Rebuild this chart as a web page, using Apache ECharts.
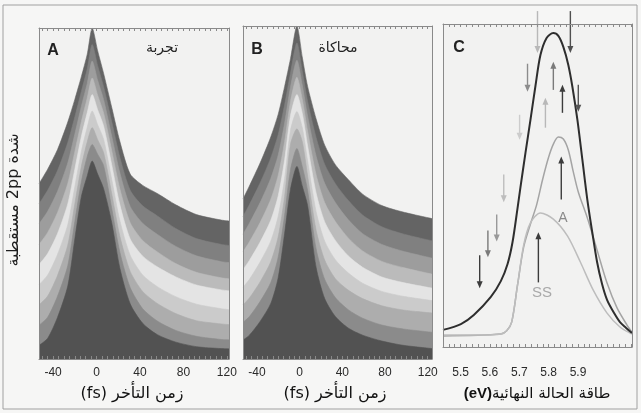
<!DOCTYPE html>
<html>
<head>
<meta charset="utf-8">
<script src="https://cdn.jsdelivr.net/npm/echarts@6.0.0/dist/echarts.min.js"></script>
<style>
  html, body { margin: 0; padding: 0; background: #f6f6f5; }
  #chart { width: 641px; height: 413px; }
</style>
</head>
<body>
<div id="chart"></div>
<script>
// A (experiment) / B (simulation): band boundaries, outer curve first, inner cusp last
const delayA = [-53, -45, -36, -26.5, -20, -14, -8.5, -4, 1, 6.5, 14, 21.5, 31, 42.5, 56, 73, 92, 115, 122];
const expA0 = [52, 56.5, 62.5, 71, 78, 85, 92, 100, 93, 86, 75.5, 65, 55, 51.5, 49, 45.5, 42.5, 40.8, 40.5];
const expA1 = [45.8, 50, 56, 64.7, 72.6, 80.4, 87.5, 94.9, 88.4, 81.9, 71.1, 60.1, 50, 45.2, 42.1, 38.2, 35.1, 33.3, 33];
const expA2 = [39.6, 43.5, 49.6, 58.4, 67.3, 75.8, 83, 89.8, 83.9, 77.9, 66.6, 55.3, 45, 39.8, 36.4, 32.7, 29.8, 28, 27.7];
const expA3 = [33.3, 37, 43.1, 52.1, 61.9, 71.1, 78.5, 84.6, 79.3, 73.8, 62.2, 50.4, 40, 34.5, 31, 27.4, 24.7, 23, 22.7];
const expA4 = [27.1, 30.5, 36.6, 45.8, 56.5, 66.5, 74, 79.5, 74.8, 69.8, 57.8, 45.5, 35, 29.7, 26.4, 23.3, 20.8, 19.3, 19];
const expA5 = [20.9, 23.9, 30.2, 39.4, 51.1, 61.9, 69.5, 74.4, 70.2, 65.7, 53.3, 40.6, 30, 23.9, 20.3, 17.2, 14.9, 13.5, 13.2];
const expA6 = [14.7, 17.4, 23.7, 33.1, 45.8, 57.3, 65, 69.3, 65.6, 61.6, 48.9, 35.8, 25, 18.8, 15.1, 12, 9.8, 8.8, 8.6];
const expA7 = [8.4, 10.9, 17.3, 26.8, 40.4, 52.6, 60.5, 64.1, 61.1, 57.6, 44.4, 30.9, 20, 13.5, 9.7, 6.8, 5, 4, 3.9];
const expA8 = [2.2, 4.4, 10.8, 20.5, 35, 48, 54.5, 59, 55, 50.5, 40, 26, 15, 9, 5.5, 3.2, 1.8, 1.2, 1.1];

const delayB = [-53, -47, -37, -27, -20, -14, -8.5, -2.5, 2.5, 7.5, 15.5, 23.5, 33.5, 45.5, 59, 77, 97, 124];
const simB0 = [47, 51, 58, 66, 73, 81.5, 90, 100, 90.5, 81.5, 71.5, 63.5, 57.5, 53, 48.5, 45, 43, 41];
const simB1 = [41.6, 45.3, 51.9, 59.6, 66.8, 75.9, 85.6, 94.8, 86.2, 76.9, 65.8, 57.6, 51.7, 46.6, 42.1, 38.5, 36.3, 34.2];
const simB2 = [36.2, 39.6, 45.9, 53.3, 60.5, 70.3, 81.3, 89.5, 81.9, 72.4, 60.1, 51.8, 45.9, 40.7, 36.4, 33.1, 31, 28.9];
const simB3 = [30.8, 33.9, 39.8, 46.9, 54.3, 64.6, 76.9, 84.3, 77.6, 67.8, 54.4, 45.9, 40.1, 35.1, 31.1, 27.9, 26, 24];
const simB4 = [25.4, 28.2, 33.8, 40.5, 48, 59, 72.5, 79, 73.3, 63.3, 48.8, 40, 34.3, 29.6, 26.1, 23.1, 21.4, 19.7];
const simB5 = [20, 22.4, 27.7, 34.1, 41.8, 53.4, 68.1, 73.8, 68.9, 58.7, 43.1, 34.1, 28.4, 24.4, 21.2, 18.7, 17.2, 15.9];
const simB6 = [14.6, 16.7, 21.6, 27.8, 35.5, 47.8, 63.8, 68.5, 64.6, 54.1, 37.4, 28.3, 22.6, 19.1, 16.5, 14.3, 13, 12.1];
const simB7 = [9.2, 11, 15.6, 21.4, 29.3, 42.1, 56, 62.5, 57, 49.6, 31.7, 22.4, 16.8, 13.1, 10.5, 8.4, 7.2, 6.2];
const simB8 = [3.8, 5.3, 9.5, 15, 23, 36.5, 50, 57, 51, 45, 26, 16.5, 11, 7.5, 5.3, 3.5, 2.2, 1.2];

// C: final state energy spectra (eV)
const energyTotal = [5.44, 5.501, 5.545, 5.603, 5.637, 5.660, 5.677, 5.694, 5.704, 5.721, 5.738, 5.755, 5.772, 5.793, 5.816,
  5.833, 5.850, 5.867, 5.881, 5.898, 5.915, 5.932, 5.949, 5.965, 5.982, 5.999, 6.023, 6.043, 6.064, 6.084];
const totalVals = [5.3, 7.1, 9.9, 15.5, 20.4, 25.7, 32.5, 43, 49.5, 60.1, 70.3, 80.8, 90.4, 95.7, 97.2,
  96.3, 92.9, 87.3, 80.5, 70.3, 57.9, 45.5, 35.3, 26.3, 19.5, 14.6, 10.5, 7.7, 5.9, 4.3];
const energyA = [5.44, 5.637, 5.657, 5.674, 5.694, 5.715, 5.738, 5.759, 5.779, 5.799, 5.816, 5.833, 5.850, 5.867, 5.884,
  5.901, 5.932, 5.965, 5.999, 6.033, 6.067, 6.084];
const stateAVals = [3.4, 4.0, 5.0, 7.7, 19.2, 31, 38.1, 44, 51.7, 58.5, 62.8, 65, 64.4, 61, 54.2,
  48, 39.9, 30, 19.8, 12.1, 6.8, 4.6];
const energySS = [5.44, 5.569, 5.637, 5.657, 5.674, 5.694, 5.715, 5.738, 5.772, 5.816, 5.864, 5.908, 5.952, 5.999, 6.043, 6.084];
const ssVals = [3.7, 3.7, 4.0, 5.0, 7.7, 19.2, 31.6, 38.4, 41.5, 39.6, 34.4, 26.3, 17.6, 10.5, 6.2, 4.0];

// arrows in C: energy, start value, end value
const arrowEnergy = [5.762, 5.874, 5.816, 5.728, 5.847, 5.901, 5.789, 5.701, 5.843, 5.765, 5.647, 5.623, 5.593, 5.565];
const arrowFrom = [104, 104, 79.6, 87.7, 72.5, 81.2, 67.9, 71.9, 45.7, 20, 53.4, 41, 36.1, 28.4];
const arrowTo = [91, 91, 88.3, 79, 81.2, 72.8, 77.2, 64.2, 59, 35.5, 44.8, 32.7, 27.8, 18.2];

const delayLabels = [-40, 0, 40, 80, 120];
const energyLabels = [5.5, 5.6, 5.7, 5.8, 5.9];

// styles
const bandGrays = ['#646464', '#808080', '#9d9d9d', '#bbbbbb', '#e4e4e4', '#cbcbcb', '#adadad', '#8b8b8b', '#525252'];
const arrowShades = ['#b8b8b8', '#505050', '#7a7a7a', '#8c8c8c', '#3c3c3c', '#555555', '#b8b8b8', '#cccccc',
  '#3c3c3c', '#3c3c3c', '#bdbdbd', '#999999', '#7a7a7a', '#3c3c3c'];

const chart = echarts.init(document.getElementById('chart'));

const grids = [
  { left: 39, top: 28, width: 190, height: 331 },
  { left: 243, top: 26, width: 189, height: 333 },
  { left: 443, top: 24, width: 189, height: 323 }
];

function ticks(from, to, step) {
  const out = [];
  for (let v = from; v <= to + 1e-9; v += step) out.push(+v.toFixed(3));
  return out;
}

const axisColor = '#8a8a8a';
const labelFont = { color: '#2a2a2a', fontSize: 12, fontFamily: 'Liberation Sans' };

function xAxes(gi, min, max, labels, tickVals, margin, fmt) {
  const common = {
    type: 'value', gridIndex: gi, min: min, max: max, z: 10,
    splitLine: { show: false },
    axisLine: { show: true, onZero: false, lineStyle: { color: axisColor, width: 1 } },
    axisTick: { show: true, inside: true, length: 3, customValues: tickVals, lineStyle: { color: axisColor } }
  };
  return [
    Object.assign({}, common, {
      position: 'bottom',
      axisLabel: Object.assign({ show: true, margin: margin, customValues: labels, formatter: fmt }, labelFont)
    }),
    Object.assign({}, common, { position: 'top', axisLabel: { show: false } })
  ];
}

function yAxes(gi, min, max) {
  const common = {
    type: 'value', gridIndex: gi, min: min, max: max, z: 10,
    splitLine: { show: false }, axisTick: { show: false }, axisLabel: { show: false },
    axisLine: { show: true, onZero: false, lineStyle: { color: axisColor, width: 1 } }
  };
  return [Object.assign({ position: 'left' }, common), Object.assign({ position: 'right' }, common)];
}

function bandSeries(gi, xs, vals, color) {
  return {
    type: 'line', xAxisIndex: gi * 2, yAxisIndex: gi * 2,
    data: xs.map((x, i) => [x, vals[i]]),
    smooth: 0.25, symbol: 'none', silent: true, z: 2,
    lineStyle: { width: 0.6, color: color },
    areaStyle: { color: color, opacity: 1, origin: 'start' }
  };
}

function curveSeries(xs, vals, color, width) {
  return {
    type: 'line', xAxisIndex: 4, yAxisIndex: 4,
    data: xs.map((x, i) => [x, vals[i]]),
    smooth: 0.3, symbol: 'none', silent: true, z: 3,
    lineStyle: { width: width, color: color }
  };
}

const series = [];
[expA0, expA1, expA2, expA3, expA4, expA5, expA6, expA7, expA8].forEach((v, k) => {
  series.push(bandSeries(0, delayA, v, bandGrays[k]));
});
[simB0, simB1, simB2, simB3, simB4, simB5, simB6, simB7, simB8].forEach((v, k) => {
  series.push(bandSeries(1, delayB, v, bandGrays[k]));
});

series.push(curveSeries(energyA, stateAVals, '#a4a4a4', 1.5));
series.push(curveSeries(energySS, ssVals, '#bdbdbd', 1.5));
series.push(curveSeries(energyTotal, totalVals, '#2e2e2e', 2));

// vertical arrows, drawn through the axes of panel C
series.push({
  type: 'custom', xAxisIndex: 4, yAxisIndex: 4, clip: false, silent: true, z: 4,
  data: arrowEnergy.map((e, i) => [e, arrowFrom[i], arrowTo[i], i]),
  renderItem: function (params, api) {
    const p0 = api.coord([api.value(0), api.value(1)]);
    const p1 = api.coord([api.value(0), api.value(2)]);
    const color = arrowShades[api.value(3)];
    const dir = p1[1] > p0[1] ? 1 : -1;
    const head = 7, half = 3;
    return {
      type: 'group',
      children: [
        { type: 'line', shape: { x1: p0[0], y1: p0[1], x2: p1[0], y2: p1[1] - dir * (head - 1) },
          style: { stroke: color, lineWidth: 1.4 } },
        { type: 'polygon', shape: { points: [[p1[0], p1[1]], [p1[0] - half, p1[1] - dir * head], [p1[0] + half, p1[1] - dir * head]] },
          style: { fill: color } }
      ]
    };
  }
});

const arabicFont = '"DejaVu Sans", "Noto Sans", sans-serif';

chart.setOption({
  animation: false,
  backgroundColor: '#f6f6f5',
  grid: grids.map(g => Object.assign({ show: true, backgroundColor: '#f2f2f1', borderWidth: 0, outerBoundsMode: 'none' }, g)),
  xAxis: [].concat(
    xAxes(0, -53, 122, delayLabels, ticks(-50, 120, 5), 8, v => String(v)),
    xAxes(1, -53, 124, delayLabels, ticks(-50, 120, 5), 8, v => String(v)),
    xAxes(2, 5.44, 6.084, energyLabels, ticks(5.46, 6.08, 0.02), 20, v => v.toFixed(1))
  ),
  yAxis: [].concat(yAxes(0, -2, 100), yAxes(1, -2, 100), yAxes(2, 0, 100)),
  series: series,
  graphic: [
    { type: 'rect', shape: { x: 3, y: 5, width: 634, height: 404 }, style: { fill: 'none', stroke: '#a0a0a0', lineWidth: 1 }, z: 0, silent: true },
    { type: 'text', x: 14, y: 200, rotation: Math.PI / 2, z: 20,
      style: { text: '\u202Bشدة 2pp مستقطبة\u202C', font: '16px ' + arabicFont, fill: '#1e1e1e', align: 'center', verticalAlign: 'middle' } },
    { type: 'text', x: 53, y: 51, z: 20, style: { text: 'A', font: 'bold 16px "Liberation Sans"', fill: '#222', align: 'center', verticalAlign: 'middle' } },
    { type: 'text', x: 162, y: 48, z: 20, style: { text: 'تجربة', font: '14px ' + arabicFont, fill: '#222', align: 'center', verticalAlign: 'middle' } },
    { type: 'text', x: 257, y: 50, z: 20, style: { text: 'B', font: 'bold 16px "Liberation Sans"', fill: '#222', align: 'center', verticalAlign: 'middle' } },
    { type: 'text', x: 338, y: 48, z: 20, style: { text: 'محاكاة', font: '14px ' + arabicFont, fill: '#222', align: 'center', verticalAlign: 'middle' } },
    { type: 'text', x: 459, y: 48, z: 20, style: { text: 'C', font: 'bold 16px "Liberation Sans"', fill: '#222', align: 'center', verticalAlign: 'middle' } },
    { type: 'text', x: 563, y: 218, z: 20, style: { text: 'A', font: '14px "Liberation Sans"', fill: '#8a8a8a', align: 'center', verticalAlign: 'middle' } },
    { type: 'text', x: 542, y: 293, z: 20, style: { text: 'SS', font: '15px "Liberation Sans"', fill: '#a8a8a8', align: 'center', verticalAlign: 'middle' } },
    { type: 'text', x: 132, y: 394, z: 20, style: { text: '\u202Bزمن التأخر (fs)\u202C', font: '16px ' + arabicFont, fill: '#111', align: 'center', verticalAlign: 'middle' } },
    { type: 'text', x: 335, y: 394, z: 20, style: { text: '\u202Bزمن التأخر (fs)\u202C', font: '16px ' + arabicFont, fill: '#111', align: 'center', verticalAlign: 'middle' } },
    { type: 'text', x: 537, y: 394, z: 20,
      style: {
        text: '{e|(eV)}{a|طاقة الحالة النهائية}', align: 'center', verticalAlign: 'middle',
        rich: {
          e: { font: 'bold 15px "Liberation Sans"', fill: '#111' },
          a: { font: '15px ' + arabicFont, fill: '#111' }
        }
      } }
  ]
});
</script>
</body>
</html>
